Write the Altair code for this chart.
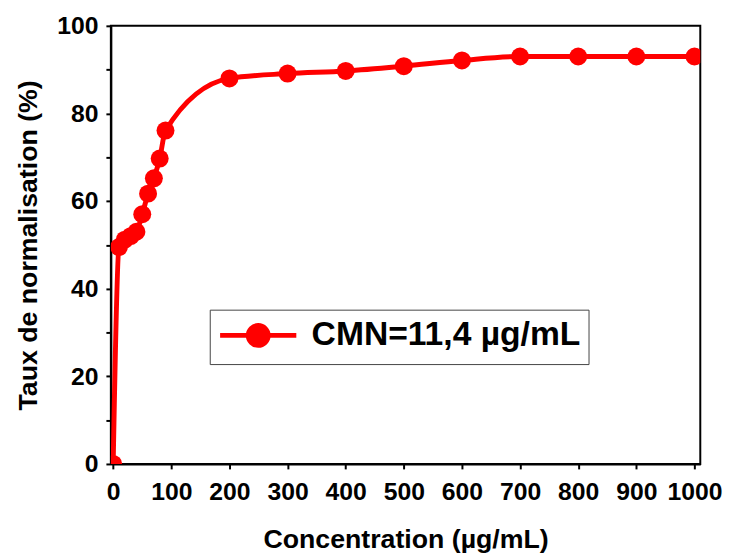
import altair as alt
import pandas as pd

conc = [0, 10, 20, 30, 40, 50, 60, 70, 80, 90, 200, 300, 400, 500, 600, 700, 800, 900, 1000]
taux = [0, 49.5, 51.2, 52.0, 53.0, 57.0, 61.7, 65.2, 69.7, 76.1, 88.0, 89.1, 89.7, 90.8, 92.1, 93.0, 93.0, 93.0, 93.0]
series = ["CMN=11,4 µg/mL"] * len(conc)

df = pd.DataFrame({"conc": conc, "taux": taux, "serie": series})

FONT = "Liberation Sans"
RED = "#ff0000"

x = alt.X("conc:Q",
          scale=alt.Scale(domain=[-4, 1010], nice=False, zero=False),
          axis=alt.Axis(title="Concentration (µg/mL)", format="d",
                        values=[0, 100, 200, 300, 400, 500, 600, 700, 800, 900, 1000],
                        grid=False, tickSize=5, labelPadding=11, titlePadding=22))
y = alt.Y("taux:Q",
          scale=alt.Scale(domain=[0, 100], nice=False),
          axis=alt.Axis(title="Taux de normalisation (%)",
                        values=list(range(0, 101, 10)),
                        labelExpr="datum.value % 20 == 0 ? datum.label : ''",
                        grid=False, tickSize=5, labelPadding=8, titlePadding=14))

SYM = "M-2.5,0L-0.6,0M0.6,0L2.5,0M0.65,0A0.65,0.65,0,1,1,-0.65,0A0.65,0.65,0,1,1,0.65,0Z"

color = alt.Color("serie:N",
                  scale=alt.Scale(domain=["CMN=11,4 µg/mL"], range=[RED]),
                  legend=alt.Legend(title=None, orient="none", legendX=100, legendY=287,
                                    strokeColor="#444", padding=8,
                                    labelFontSize=34, labelFontWeight="bold", labelFont=FONT,
                                    labelColor="black", labelOffset=36, labelLimit=600,
                                    symbolType=SYM, symbolOffset=23,
                                    symbolSize=950, symbolStrokeWidth=5,
                                    symbolFillColor=RED, symbolStrokeColor=RED))

line = alt.Chart(df).mark_line(strokeWidth=5, interpolate="monotone", clip=True).encode(
    x=x, y=y, color=color)
pts = alt.Chart(df).mark_point(filled=True, size=330, opacity=1, clip=True).encode(
    x=x, y=y, color=alt.Color("serie:N", scale=alt.Scale(domain=["CMN=11,4 µg/mL"], range=[RED]), legend=None))

chart = (line + pts).properties(
    width=596, height=443,
    autosize=alt.AutoSizeParams(type="none"),
    padding={"left": 104, "top": 15, "right": 26, "bottom": 87},
).configure_view(stroke="black", strokeWidth=2).configure_axis(
    domainColor="black", domainWidth=2, tickColor="black", tickWidth=2,
    labelFont=FONT, labelFontSize=25, labelFontWeight="bold", labelColor="black",
    titleFont=FONT, titleFontSize=27, titleFontWeight="bold", titleColor="black",
)

chart.save("out.html", embed_options={"renderer": "svg", "actions": False})
